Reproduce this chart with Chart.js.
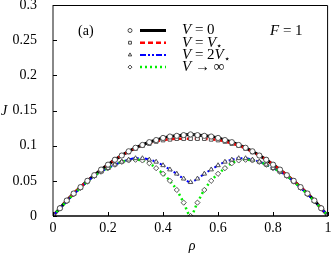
<!DOCTYPE html>
<html>
<head>
<meta charset="utf-8">
<script src="https://cdn.jsdelivr.net/npm/chart.js@4"></script>
<style>
  html, body { margin: 0; padding: 0; background: #fff; }
  #wrap { width: 333px; height: 254px; }
</style>
</head>
<body>
<div id="wrap"><canvas id="chart" width="333" height="254"></canvas></div>
<script>
// density values (x axis)
const rho = [0, 0.025, 0.05, 0.075, 0.1, 0.125, 0.15, 0.175, 0.2, 0.225, 0.25, 0.275, 0.3, 0.325, 0.35, 0.375, 0.4, 0.425, 0.45, 0.475, 0.5,
             0.525, 0.55, 0.575, 0.6, 0.625, 0.65, 0.675, 0.7, 0.725, 0.75, 0.775, 0.8, 0.825, 0.85, 0.875, 0.9, 0.925, 0.95, 0.975, 1];

// current J for each V
const jV0 = [0, 0.011, 0.022, 0.032, 0.041, 0.050, 0.058, 0.066, 0.073, 0.080, 0.086, 0.092, 0.097, 0.101, 0.105, 0.108, 0.111, 0.113, 0.114, 0.115, 0.116,
             0.115, 0.114, 0.113, 0.111, 0.108, 0.105, 0.101, 0.097, 0.092, 0.086, 0.080, 0.073, 0.066, 0.058, 0.050, 0.041, 0.032, 0.022, 0.011, 0];
const jVstar = [0, 0.011, 0.022, 0.032, 0.041, 0.050, 0.058, 0.066, 0.073, 0.080, 0.086, 0.091, 0.096, 0.100, 0.103, 0.106, 0.108, 0.109, 0.110, 0.110, 0.110,
                0.110, 0.110, 0.109, 0.108, 0.106, 0.103, 0.100, 0.096, 0.091, 0.086, 0.080, 0.073, 0.066, 0.058, 0.050, 0.041, 0.032, 0.022, 0.011, 0];
const j2Vstar = [0, 0.011, 0.021, 0.031, 0.040, 0.049, 0.057, 0.063, 0.068, 0.073, 0.077, 0.080, 0.082, 0.082, 0.080, 0.077, 0.072, 0.066, 0.060, 0.053, 0.048,
                 0.053, 0.060, 0.066, 0.072, 0.077, 0.080, 0.082, 0.082, 0.080, 0.077, 0.073, 0.068, 0.063, 0.057, 0.049, 0.040, 0.031, 0.021, 0.011, 0];
const jInf = [0, 0.011, 0.021, 0.031, 0.040, 0.049, 0.057, 0.063, 0.068, 0.073, 0.077, 0.079, 0.080, 0.079, 0.075, 0.068, 0.060, 0.050, 0.037, 0.019, 0,
              0.019, 0.037, 0.050, 0.060, 0.068, 0.075, 0.079, 0.080, 0.079, 0.077, 0.073, 0.068, 0.063, 0.057, 0.049, 0.040, 0.031, 0.021, 0.011, 0];

const xTicks = [0, 0.2, 0.4, 0.6, 0.8, 1];
const yTicks = [0, 0.05, 0.1, 0.15, 0.2, 0.25, 0.3];

const SERIF = '"Liberation Serif", "DejaVu Serif", serif';

const pts = ys => rho.map((r, i) => ({ x: r, y: ys[i] }));

const lineSet = (label, ys, color, width, dash, order) => ({
    type: 'line', label, data: pts(ys), borderColor: color, borderWidth: width,
    borderDash: dash, pointRadius: 0, cubicInterpolationMode: 'monotone', fill: false, order
});
const markSet = (label, ys, style) => ({
    type: 'scatter', label, data: pts(ys), showLine: false, pointStyle: style,
    pointRadius: 2.6, pointBorderWidth: 0.9, pointBorderColor: '#444', pointBackgroundColor: '#fff', order: 0
});

// legend rows: [marker style, colour, width, dash, text pieces]
const legendRows = [
    ['circle', '#000', 3, [], [['V', true], [' = 0', false]]],
    ['rect', '#f00', 2.5, [5, 3], [['V', true], [' = ', false], ['V', true], ['*', 'sub']]],
    ['triangle', '#00f', 2, [6, 2, 2, 2, 2, 2], [['V', true], [' = 2', false], ['V', true], ['*', 'sub']]],
    ['rectRot', '#0e0', 2.5, [2, 3], [['V', true], [' \u2192 \u221e', false]]]
];

const decor = {
    id: 'decor',
    afterDraw(chart) {
        const c = chart.ctx, a = chart.chartArea;
        const xs = chart.scales.x, ys = chart.scales.y;
        c.save();
        // frame
        c.strokeStyle = '#000'; c.lineWidth = 1;
        c.beginPath();
        c.moveTo(a.left, a.top + 0.5); c.lineTo(a.right - 0.5, a.top + 0.5);
        c.lineTo(a.right - 0.5, a.bottom);
        c.stroke();
        c.lineWidth = 1.5;
        c.beginPath(); c.moveTo(a.left, a.bottom); c.lineTo(a.right, a.bottom); c.stroke();
        c.strokeStyle = '#888'; c.lineWidth = 2;
        c.beginPath(); c.moveTo(a.left, a.top); c.lineTo(a.left, a.bottom); c.stroke();
        // inward ticks
        c.strokeStyle = '#000'; c.lineWidth = 1;
        xTicks.forEach(v => {
            const px = Math.round(xs.getPixelForValue(v)) + 0.5;
            c.beginPath(); c.moveTo(px, a.bottom); c.lineTo(px, a.bottom - 4); c.stroke();
        });
        yTicks.forEach(v => {
            const py = Math.round(ys.getPixelForValue(v)) + 0.5;
            c.beginPath(); c.moveTo(a.left, py); c.lineTo(a.left + 4, py); c.stroke();
        });
        // axis titles
        c.fillStyle = '#000';
        c.font = 'italic 14px ' + SERIF;
        c.textAlign = 'left'; c.textBaseline = 'middle';
        c.fillText('J', 1, 111);
        c.textAlign = 'center';
        c.fillText('\u03c1', 192, 246);
        // panel label and F
        c.font = '14px ' + SERIF; c.textAlign = 'left';
        c.fillText('(a)', 78, 31);
        c.font = 'italic 15px ' + SERIF;
        c.fillText('F', 270, 31);
        const fw = c.measureText('F').width;
        c.font = '15px ' + SERIF;
        c.fillText(' = 1', 270 + fw, 31);
        // legend
        legendRows.forEach((row, i) => {
            const y = 30.5 + i * 12.2;
            const [style, color, width, dash, pieces] = row;
            c.save();
            c.fillStyle = '#fff'; c.strokeStyle = '#444';
            Chart.helpers.drawPoint(c, { pointStyle: style, radius: 2, borderWidth: 0.8 }, 130, y);
            c.strokeStyle = color; c.lineWidth = width; c.setLineDash(dash);
            c.beginPath(); c.moveTo(140, y); c.lineTo(166, y); c.stroke();
            c.restore();
            let x = 182;
            pieces.forEach(([t, kind]) => {
                if (kind === 'sub') {
                    c.font = '10px ' + SERIF;
                    c.fillText('\u22c6', x, y + 4);
                    x += c.measureText('\u22c6').width;
                } else {
                    c.font = (kind ? 'italic ' : '') + '15px ' + SERIF;
                    c.fillText(t, x, y);
                    x += c.measureText(t).width;
                }
            });
        });
        c.restore();
    }
};

Chart.defaults.font.family = SERIF;
Chart.defaults.color = '#000';

new Chart(document.getElementById('chart'), {
    data: {
        datasets: [
            markSet('V=0 sim', jV0, 'circle'),
            markSet('V=V* sim', jVstar, 'rect'),
            markSet('V=2V* sim', j2Vstar, 'triangle'),
            markSet('V=inf sim', jInf, 'rectRot'),
            lineSet('V = 0', jV0, '#000', 3, [], 5),
            lineSet('V = V*', jVstar, '#f00', 2.5, [5, 3], 4),
            lineSet('V = 2V*', j2Vstar, '#00f', 2, [6, 2, 2, 2, 2, 2], 3),
            lineSet('V -> inf', jInf, '#0e0', 2.5, [2, 3], 2)
        ]
    },
    options: {
        responsive: false,
        animation: false,
        layout: { padding: { top: 5, right: 1, left: 0, bottom: 0 } },
        plugins: { legend: { display: false }, tooltip: { enabled: false } },
        scales: {
            x: {
                type: 'linear', min: 0, max: 1,
                afterBuildTicks: s => { s.ticks = xTicks.map(v => ({ value: v })); },
                ticks: { font: { size: 14 }, padding: 4, maxRotation: 0, callback: v => String(v) },
                grid: { display: false, drawTicks: false }, border: { display: false },
                afterFit: s => { s.height = 38; s.paddingLeft = 0; s.paddingRight = 0; }
            },
            y: {
                min: 0, max: 0.3,
                afterBuildTicks: s => { s.ticks = yTicks.map(v => ({ value: v })); },
                ticks: { font: { size: 14 }, padding: 8, callback: v => String(v) },
                grid: { display: false }, border: { display: false },
                afterFit: s => { s.width = 53; s.paddingTop = 0; s.paddingBottom = 0; }
            }
        }
    },
    plugins: [decor]
});
</script>
</body>
</html>
